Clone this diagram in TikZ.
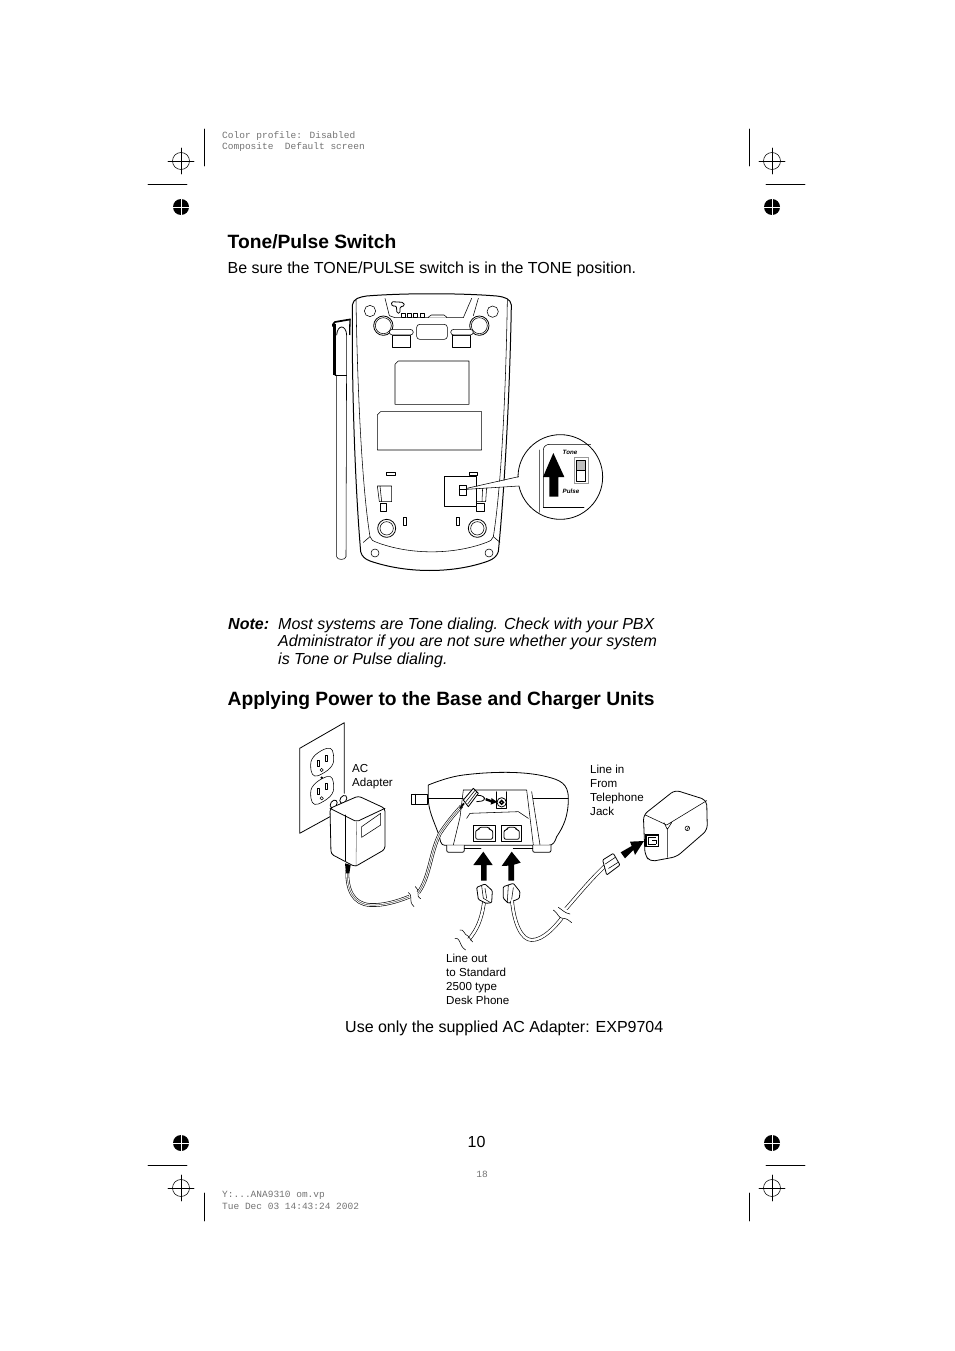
\documentclass[tikz,border=0pt]{standalone}
\usepackage{fontspec}
\setmainfont{Liberation Sans}
\newfontfamily\markfont{Liberation Mono}
\tikzset{
  HeadStyle/.style = { anchor=base west, inner sep=0pt, font = \fontsize{19.25}{24}\selectfont\bfseries },
  BodyStyle/.style = { anchor=base west, inner sep=0pt, font = \fontsize{16}{18}\selectfont },
  NoteStyle/.style = { anchor=base west, inner sep=0pt, font = \fontsize{16}{18}\selectfont\itshape },
  LabelStyle/.style = { anchor=base west, inner sep=0pt, font = \fontsize{11.6}{14}\selectfont },
  MarkStyle/.style = { anchor=base west, inner sep=0pt, text = black!55, font = \fontsize{9.5}{11}\markfont },
  SwitchStyle/.style = { inner sep=0pt, font = \fontsize{6.2}{7}\selectfont\bfseries\itshape },
  art/.style = { line width=0.8pt, line join=round, line cap=round },
  thin art/.style = { line width=0.55pt, line join=round, line cap=round },
  cord/.style = { draw=white, line width=2.4pt, line cap=round, preaction={draw=black, line width=3.6pt} },
  power cord/.style = { cord, postaction={draw=black!70, line width=0.5pt} },
  solid arrow/.style = { fill=black, draw=none }
}
\begin{document}
\begin{tikzpicture}[x=1pt,y=-1pt]
  \useasboundingbox[fill=white] (0,0) rectangle (954,1351);

  % printer marks
  \foreach \mx/\my in {181/161,772/161,181/1188,772/1188}{
    \draw[thin art] (\mx,\my) circle (8.5);
    \draw[thin art] (\mx-13,\my) -- (\mx+13,\my) (\mx,\my-13) -- (\mx,\my+13);
  }
  \foreach \mx/\my in {181/207,772/207,181/1143,772/1143}{
    \fill (\mx,\my) circle (8);
    \draw[white,line width=0.4pt] (\mx-8,\my) -- (\mx+8,\my) (\mx,\my-8) -- (\mx,\my+8);
  }
  \draw[art] (204,129) -- (204,166) (749,129) -- (749,166)
    (148,184) -- (187,184) (766,184) -- (805,184)
    (148,1165) -- (187,1165) (766,1165) -- (805,1165)
    (204,1193) -- (204,1221) (749,1193) -- (749,1221);

  \node[MarkStyle](PROFILE) at (222,138.5) {Color profile: Disabled};
  \node[MarkStyle](SCREEN) at (222,149.5) {Composite\ \ Default screen};
  \node[MarkStyle](FILE) at (222,1197) {Y:...ANA9310 om.vp};
  \node[MarkStyle](DATE) at (222,1209) {Tue Dec 03 14:43:24 2002};
  \node[MarkStyle,anchor=base](SHEET) at (482,1177.5) {18};

  % page text
  \node[HeadStyle](TONEHEAD) at (227.5,248) {Tone/Pulse Switch};
  \node[BodyStyle](TONEBODY) at (227.5,273) {Be sure the TONE/PULSE switch is in the TONE position.};
  \node[NoteStyle,font=\fontsize{16}{18}\selectfont\itshape\bfseries](NOTE) at (228,629) {Note:};
  \node[NoteStyle](NOTEA) at (278,629) {Most systems are Tone dialing. Check with your PBX};
  \node[NoteStyle](NOTEB) at (278,646) {Administrator if you are not sure whether your system};
  \node[NoteStyle](NOTEC) at (278,664) {is Tone or Pulse dialing.};
  \node[HeadStyle](POWERHEAD) at (227.5,705) {Applying Power to the Base and Charger Units};
  \node[BodyStyle](SUPPLIED) at (345,1032) {Use only the supplied AC Adapter: EXP9704};
  \node[BodyStyle,anchor=base](PAGENO) at (476.5,1147) {10};

  % underside of the base
  \begin{scope}[shift={(320,285)},scale=1/3]
    \draw[line width=1pt,line join=round] (97,60) .. controls (100,40) and (120,36) .. (140,33)
      .. controls (250,24) and (420,24) .. (530,33)
      .. controls (555,36) and (572,42) .. (574,60)
      .. controls (570,300) and (555,600) .. (535,800)
      .. controls (530,815) and (520,822) .. (505,828)
      .. controls (400,866) and (260,866) .. (150,828)
      .. controls (135,822) and (126,815) .. (122,800)
      .. controls (105,600) and (95,300) .. (97,60) -- cycle;
    \draw[thin art] (108,45) .. controls (112,300) and (125,600) .. (150,755)
      .. controls (152,765) and (160,768) .. (170,772)
      .. controls (270,810) and (400,810) .. (500,772)
      .. controls (510,768) and (518,765) .. (520,755)
      .. controls (545,600) and (558,300) .. (562,45);
    \draw[thin art] (130,772) -- (150,755) (540,772) -- (520,755);
    % top of the case
    \draw[thin art] (195,40) -- (208,92) -- (225,98) -- (430,98) -- (455,40) (475,40) -- (460,92);
    \draw[art,rounded corners=1.5pt] (214,50) -- (250,52) -- (254,63) -- (240,65) -- (240,85) -- (231,85) -- (229,62) -- (216,64) -- cycle;
    \foreach \sx in {243,262,281,300}{
      \draw[thin art,fill=white] (\sx,86) rectangle ++(12,12);
    }
    \draw[thin art,rounded corners=2pt,fill=white] (325,98) -- (328,90) -- (378,90) -- (380,98);
    \foreach \cx/\cy/\cr in {150/78/17,518/80/17,165/804/12,507/804/12}{
      \draw[thin art,fill=white] (\cx,\cy) circle (\cr);
    }
    \foreach \cx/\cy in {190/122,478/122}{
      \draw[art,fill=white] (\cx,\cy) circle (29);
      \draw[thin art] (\cx,\cy) circle (24);
    }
    \foreach \cx/\cy in {200/730,472/730}{
      \draw[art,fill=white] (\cx,\cy) circle (27);
      \draw[thin art] (\cx,\cy) circle (20);
    }
    \draw[thin art,rounded corners=3pt] (290,118) rectangle (382,163);
    \draw[thin art,fill=white] (218,150) rectangle (270,186);
    \draw[thin art,fill=white,rounded corners=3pt] (208,133) rectangle (280,150);
    \draw[thin art,fill=white] (398,150) rectangle (450,186);
    \draw[thin art,fill=white,rounded corners=3pt] (392,133) rectangle (460,150);
    % label recesses
    \draw[thin art] (235,228) -- (447,228) -- (447,358) -- (225,358) -- (225,238) -- cycle;
    \draw[thin art] (182,380) -- (485,380) -- (485,495) -- (172,495) -- (172,390) -- cycle;
    % lower details
    \draw[thin art] (200,563) rectangle (225,572) (447,563) rectangle (472,572);
    \draw[thin art] (250,697) rectangle (260,720) (410,697) rectangle (418,720);
    \draw[thin art] (172,603) -- (215,603) -- (215,650) -- (178,650) -- cycle (180,603) -- (185,650);
    \draw[thin art] (180,655) rectangle (200,680);
    \draw[thin art] (470,655) rectangle (492,680);
    \draw[thin art] (470,605) -- (500,605) -- (497,650) -- (470,650) (488,605) -- (486,650);
    \draw[thin art,fill=white] (373,575) rectangle (470,665);
    \draw[art] (418,600) rectangle (438,630) (418,613) -- (438,613);
    % antenna
    \draw[thin art] (50,270) -- (50,815) .. controls (50,826) and (78,826) .. (78,815) -- (80,150);
    \draw[thin art] (45,270) -- (80,270);
    \draw[line width=2.4pt] (44,116) -- (44,270);
    \draw[line width=1.7pt,line join=round,rounded corners=2pt] (39,125) -- (39,112) -- (92,103);
    \draw[line width=1.3pt] (90,103) -- (89,150);
    \draw[art] (50,150) .. controls (52,118) and (78,118) .. (80,150);
    % magnified switch
    \draw[art,fill=white] (721,576) circle (127);
    \fill[white] (440,611) -- (606,575) -- (606,603) -- cycle;
    \draw[thin art] (440,610) -- (596,575) (440,613) -- (597,603);
    \draw[thin art,draw=black!60] (657,495) -- (657,682);
    \draw[thin art] (670,668) -- (670,495) .. controls (670,485) and (678,478) .. (690,478) -- (812,478);
    \draw[thin art] (670,668) -- (792,668);
    \fill[solid arrow] (700,504) -- (733,576) -- (715,576) -- (715,635) -- (688,635) -- (688,576) -- (669,576) -- cycle;
    \draw[line width=0.9pt,draw=black!40] (762,518) rectangle (805,596);
    \draw[thin art,fill=black!25] (770,527) rectangle (797,556);
    \draw[thin art] (770,556) -- (770,590) -- (797,590) -- (797,556);
    \node[SwitchStyle](TONE) at (750,501) {Tone};
    \node[SwitchStyle](PULSE) at (753,618) {Pulse};
  \end{scope}

  % wall outlet, adapter, base
  \begin{scope}[shift={(290,730)},scale=1/3]
    \draw[art] (29,55) -- (163,-22) -- (163,190) (29,55) -- (29,310) -- (120,260);
    \foreach \oy in {0,85}{
      \draw[thin art] (62,105+\oy) .. controls (60,80+\oy) and (90,62+\oy) .. (110,55+\oy)
        .. controls (128,50+\oy) and (131,65+\oy) .. (131,90+\oy)
        .. controls (131,115+\oy) and (100,130+\oy) .. (85,137+\oy)
        .. controls (68,143+\oy) and (62,130+\oy) .. (62,105+\oy) -- cycle;
      \draw[thin art] (83,90+\oy) rectangle ++(5,19) (106,75+\oy) rectangle ++(5,19);
      \draw[thin art] (95,120+\oy) circle (5);
    }
    \fill (95,143) circle (4);
    % adapter
    \draw[art,fill=white,rotate around={-35:(131,222)}] (131,222) ellipse (9 and 13);
    \draw[art,fill=white,rotate around={-35:(160,208)}] (160,208) ellipse (9 and 13);
    \draw[art,fill=white,rounded corners=3pt] (120,235) -- (205,198) -- (285,235) -- (285,358) -- (195,410) -- (123,372) -- cycle;
    \draw[art,rounded corners=2pt] (120,235) -- (200,275) -- (285,235);
    \draw[thin art,draw=black!50] (200,275) -- (198,410);
    \draw[thin art] (165,255) -- (165,392);
    \draw[thin art] (215,290) -- (272,250) -- (272,285) -- (215,322) -- cycle;
    % cord to adapter
    \draw[power cord] (172,420) .. controls (170,480) and (190,522) .. (240,525) .. controls (280,527) and (320,515) .. (358,500);
    \fill (165,400) -- (182,405) -- (178,430) -- (168,430) -- cycle;
    \draw[thin art] (355,488) .. controls (372,500) and (352,510) .. (372,530)
      (376,470) .. controls (394,488) and (374,495) .. (392,506);
    % base
    \draw[art,fill=white] (365,193) rectangle (412,223) (377,193) -- (377,223);
    \draw[art,fill=white] (415,165) .. controls (440,155) and (480,140) .. (520,135)
      .. controls (600,125) and (700,122) .. (770,140)
      .. controls (810,150) and (835,160) .. (835,205) .. controls (835,260) and (820,290) .. (800,320)
      .. controls (795,335) and (790,346) .. (775,346) -- (465,346)
      .. controls (450,346) and (452,330) .. (445,310) .. controls (430,270) and (415,240) .. (415,205) -- cycle;
    \draw[thin art] (415,205) -- (520,205) (730,205) -- (835,205);
    \draw[thin art] (520,180) -- (710,180) -- (730,345) (725,185) -- (750,345);
    \draw[thin art] (520,180) -- (510,262) -- (490,345) (530,265) -- (540,250) -- (685,245) -- (715,265);
    \draw[thin art] (620,185) -- (620,235) -- (650,235) -- (650,185);
    \draw[art,fill=white,rounded corners=2pt] (470,346) -- (470,367) -- (523,367) -- (523,346);
    \draw[art,fill=white,rounded corners=2pt] (728,346) -- (728,367) -- (783,367) -- (783,346);
    \draw[art] (523,355) -- (573,355) (670,355) -- (728,355);
    \foreach \jx/\jw in {550/65,635/60}{
      \draw[thin art,fill=white] (\jx,285) rectangle ++(\jw,50);
      \draw[art,rounded corners=2pt] (\jx+7,300) -- (\jx+17,300) -- (\jx+17,292) -- (\jx+\jw-17,292) -- (\jx+\jw-17,300) -- (\jx+\jw-7,300) -- (\jx+\jw-7,328) -- (\jx+7,328) -- cycle;
    }
    \draw[art] (635,217) circle (14);
    \draw[line width=1.5pt] (635,217) circle (5.5);
    \draw[art,fill=white,rounded corners=3pt] (555,195) -- (582,198) -- (585,212) -- (560,215);
    \fill[solid arrow] (588,204) -- (604,210) -- (604,204) -- (622,216) -- (602,224) -- (603,217) -- (586,211) -- cycle;
    \draw[power cord] (385,488) .. controls (420,440) and (420,370) .. (450,310) .. controls (470,280) and (490,255) .. (515,228);
    \draw[art,fill=white] (520,210) -- (550,175) -- (565,190) -- (535,230) -- cycle;
    \draw[thin art] (527,216) -- (555,181) (533,222) -- (560,186);
    \draw[line width=1.8pt] (510,235) -- (522,220);
    % arrows into the jacks
    \fill[solid arrow] (580,365) -- (608,405) -- (590,405) -- (590,452) -- (573,452) -- (573,405) -- (550,405) -- cycle;
    \fill[solid arrow] (665,365) -- (692,398) -- (672,404) -- (672,452) -- (655,452) -- (655,407) -- (635,408) -- cycle;
    % line out cord
    \draw[cord] (582,516) .. controls (575,570) and (560,600) .. (537,628);
    \draw[thin art] (510,600) .. controls (522,596) and (522,615) .. (534,618) .. controls (540,622) and (542,632) .. (548,636);
    \draw[thin art] (495,625) .. controls (508,622) and (510,640) .. (515,648) .. controls (518,654) and (522,656) .. (527,660);
    \draw[art,fill=white,rounded corners=1pt] (560,472) -- (585,462) -- (607,482) -- (605,518) -- (588,520) -- (565,508) -- cycle;
    \draw[thin art] (575,468) -- (580,505) -- (602,518) (585,475) -- (590,505);
    % plug of the line in cord
    \draw[art,fill=white,rounded corners=1pt] (640,470) -- (670,460) -- (690,485) -- (688,505) -- (655,520) -- (640,505) -- cycle;
    \draw[thin art] (655,465) -- (652,515) (670,473) -- (665,508);
  \end{scope}

  % line in cord and wall jack
  \begin{scope}[shift={(490,750)},scale=1/3]
    \draw[cord] (66,452) .. controls (72,520) and (95,570) .. (125,570) .. controls (160,570) and (195,530) .. (215,505);
    \draw[thin art] (190,480) .. controls (205,490) and (205,505) .. (218,505) .. controls (230,505) and (235,510) .. (245,518);
    \draw[thin art] (205,472) .. controls (215,478) and (225,490) .. (240,492);
    \draw[cord] (228,476) .. controls (260,440) and (300,390) .. (345,348);
    \draw[art,fill=white,rounded corners=1pt] (338,330) -- (370,310) -- (390,345) -- (350,375) -- cycle;
    \draw[thin art] (346,342) -- (376,322) (356,355) -- (386,336);
    \fill[solid arrow] (392,307) -- (425,288) -- (420,275) -- (462,273) -- (435,315) -- (430,300) -- (405,325) -- cycle;
    \draw[art,fill=white,rounded corners=5pt] (460,195) -- (555,120) -- (650,150) -- (652,240) -- (560,320) -- (480,335) -- (465,315) -- cycle;
    \draw[thin art] (466,195) -- (530,225) -- (650,152) (532,235) -- (532,322) (522,218) -- (532,238) -- (545,218);
    \draw[thin art] (592,235) circle (7);
    \draw[thin art] (590,240) -- (596,230);
    \draw[line width=1.3pt,fill=white] (468,255) rectangle (505,290);
    \draw[line width=1pt] (476,262) -- (498,262) (476,262) -- (476,282) -- (498,282) (486,270) -- (498,270) -- (498,282);
  \end{scope}

  % callout labels
  \node[LabelStyle](ACA) at (352,772) {AC};
  \node[LabelStyle](ACB) at (352,786) {Adapter};
  \node[LabelStyle](INA) at (590,773) {Line in};
  \node[LabelStyle](INB) at (590,787) {From};
  \node[LabelStyle](INC) at (590,801) {Telephone};
  \node[LabelStyle](IND) at (590,815) {Jack};
  \node[LabelStyle](OUTA) at (446,962) {Line out};
  \node[LabelStyle](OUTB) at (446,976) {to Standard};
  \node[LabelStyle](OUTC) at (446,990) {2500 type};
  \node[LabelStyle](OUTD) at (446,1004) {Desk Phone};
\end{tikzpicture}
\end{document}
